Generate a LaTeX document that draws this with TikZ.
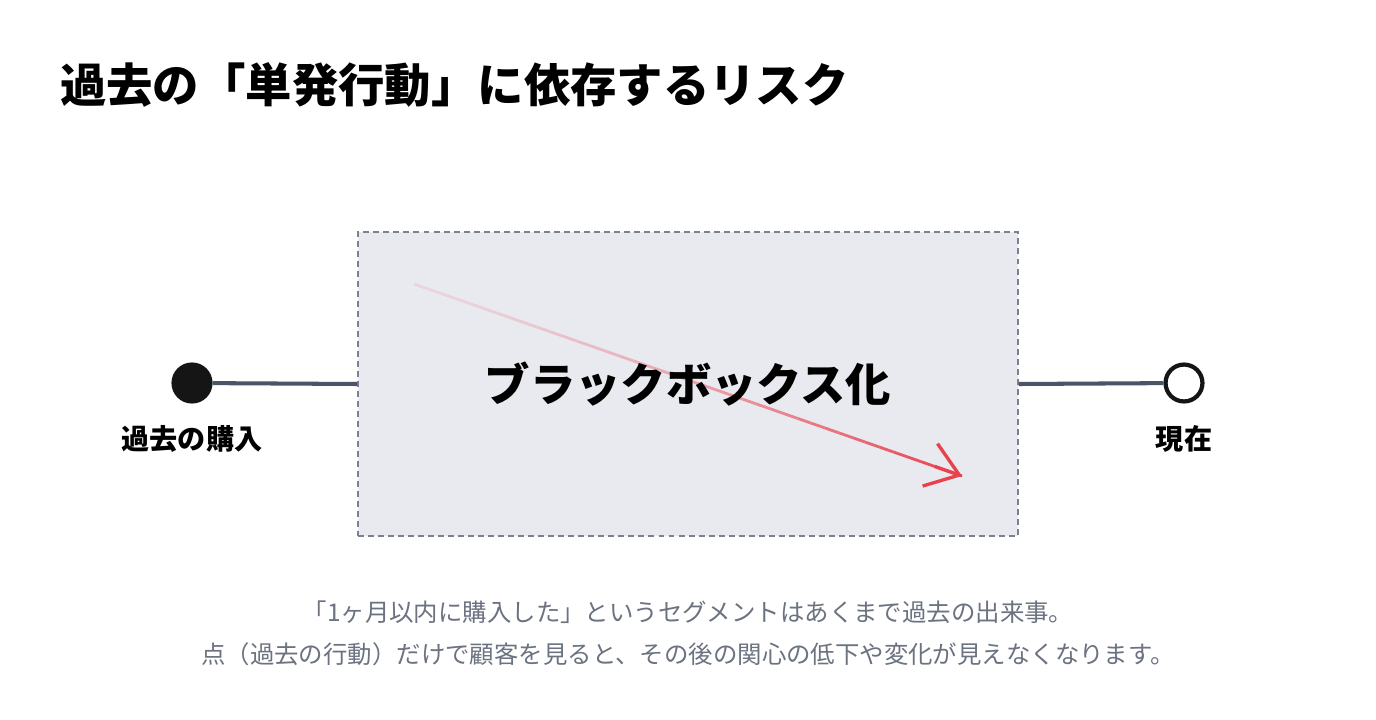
\documentclass[tikz,border=0pt]{standalone}
\usepackage{fontspec}
\usepackage{tikz}
\usetikzlibrary{arrows.meta,calc,positioning}
\newfontfamily\jpfont{Noto Sans CJK JP}
\definecolor{boxfill}{HTML}{E9EAF0}
\definecolor{boxline}{HTML}{7A8291}
\definecolor{axisline}{HTML}{4A5568}
\definecolor{arrowred}{HTML}{E8424F}
\definecolor{notegray}{HTML}{6B7280}
\definecolor{dotblack}{HTML}{151515}

\begin{document}
\begin{tikzpicture}[x=0.02cm,y=-0.02cm,
    every node/.style={font=\jpfont},
    axis/.style={draw=axisline,line width=2.3pt},
    endpoint/.style={circle,minimum size=21pt,inner sep=0pt,line width=2.4pt,draw=dotblack},
    ptlabel/.style={font=\jpfont\bfseries\fontsize{16}{18}\selectfont}]

    \useasboundingbox[fill=white] (0,0) rectangle (1376,720);

    % title
    \node[anchor=west,font=\jpfont\bfseries\fontsize{26.4}{30}\selectfont] (title) at (54,85)
      {過去の「単発行動」に依存するリスク};

    % black box
    \node[draw=boxline,dash pattern=on 3.4pt off 2.3pt,fill=boxfill,line width=0.7pt,
      minimum width=13.2cm,minimum height=6.08cm] (box) at (688,384) {};

    % timeline
    \node[endpoint,fill=dotblack] (past) at (192,383) {};
    \node[endpoint,fill=white] (now) at (1184,383) {};
    \draw[axis] (past) -- (box.west);
    \draw[axis] (box.east) -- (now);
    \node[ptlabel,below=9pt of past] (pastlbl) {過去の購入};
    \node[ptlabel,below=9pt of now] (nowlbl) {現在};

    % fading arrow
    \coordinate (as) at (414,284);
    \coordinate (ae) at (962,476);
    \foreach \i in {1,...,40} {
      \pgfmathsetmacro{\ta}{(\i-1)/40}
      \pgfmathsetmacro{\tb}{\i/40}
      \pgfmathsetmacro{\pc}{12+88*(\i/40)^1.6}
      \draw[arrowred!\pc!boxfill,line width=1.6pt] ($(as)!\ta!(ae)$) -- ($(as)!\tb!(ae)$);
    }
    \draw[arrowred,line width=1.9pt,-{Straight Barb[length=0.62cm,width=0.9cm]}]
      ($(as)!0.95!(ae)$) -- (ae);

    \node[font=\jpfont\bfseries\fontsize{25.8}{30}\selectfont] (bbtext) at (box.center) {ブラックボックス化};

    % note
    \node[text=notegray,font=\jpfont\fontsize{13.9}{16}\selectfont] (note1) at (688,612)
      {「1ヶ月以内に購入した」というセグメントはあくまで過去の出来事。};
    \node[text=notegray,font=\jpfont\fontsize{13.9}{16}\selectfont] (note2) at (688,654)
      {点（過去の行動）だけで顧客を見ると、その後の関心の低下や変化が見えなくなります。};

\end{tikzpicture}
\end{document}
